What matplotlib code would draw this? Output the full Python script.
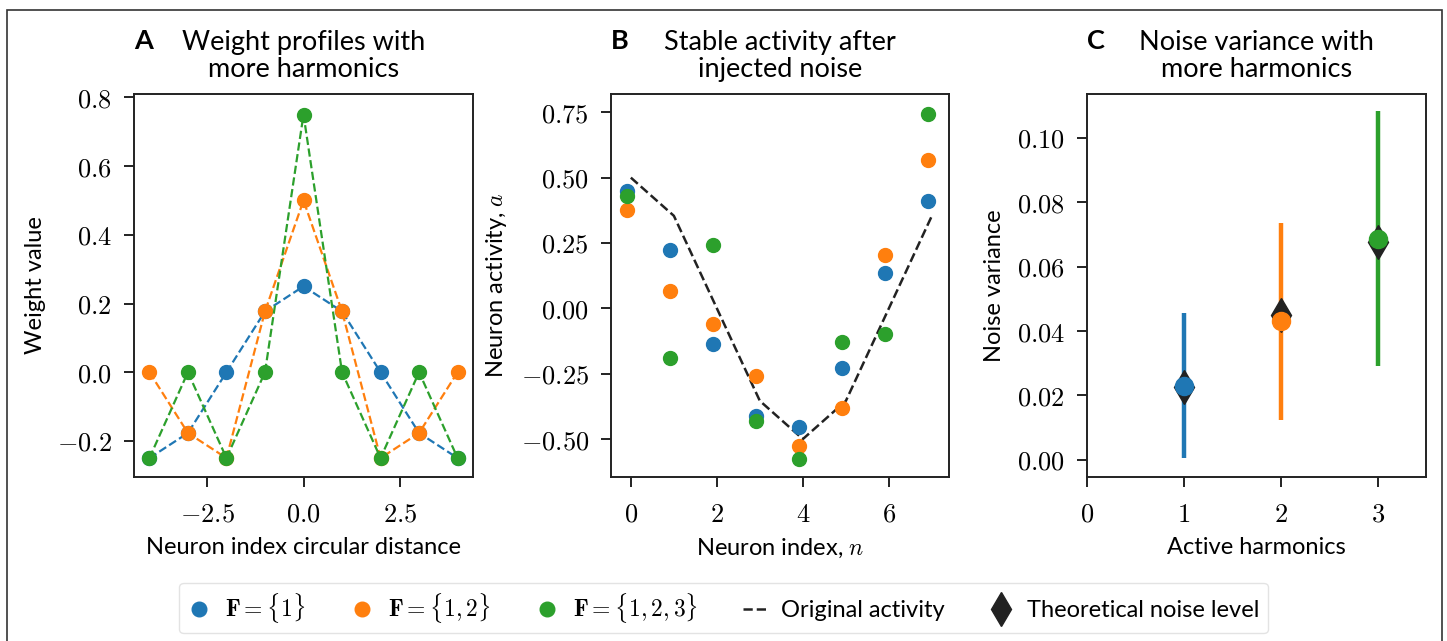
import matplotlib
matplotlib.use("Agg")
import matplotlib.pyplot as plt
from matplotlib.lines import Line2D
from matplotlib.patches import Rectangle
from matplotlib.ticker import FuncFormatter


plt.rcParams["font.family"] = ["Lato", "DejaVu Sans"]
plt.rcParams["mathtext.fontset"] = "cm"


BLUE = "#1f77b4"
ORANGE = "#ff7f0e"
GREEN = "#2ca02c"
DARK = "#222222"

# panel A: weight profiles
dist = [-4, -3, -2, -1, 0, 1, 2, 3, 4]
w_f1 = [-0.25, -0.177, 0.0, 0.177, 0.25, 0.177, 0.0, -0.177, -0.25]
w_f12 = [0.0, -0.177, -0.25, 0.177, 0.5, 0.177, -0.25, -0.177, 0.0]
w_f123 = [-0.25, 0.0, -0.25, 0.0, 0.75, 0.0, -0.25, 0.0, -0.25]

# panel B: activity after noise
neuron = [0, 1, 2, 3, 4, 5, 6, 7]
original = [0.5, 0.354, 0.0, -0.354, -0.5, -0.354, 0.0, 0.354]
act_f1 = [0.45, 0.225, -0.135, -0.41, -0.452, -0.228, 0.134, 0.412]
act_f12 = [0.375, 0.066, -0.061, -0.258, -0.525, -0.382, 0.205, 0.569]
act_f123 = [0.431, -0.19, 0.244, -0.432, -0.575, -0.128, -0.1, 0.745]
point_shift = -0.1

# panel C: noise variance
harmonics = [1, 2, 3]
var_mean = [0.0228, 0.0430, 0.0686]
var_low = [0.0005, 0.0125, 0.0293]
var_high = [0.0455, 0.0735, 0.1083]
var_theory = [0.0225, 0.045, 0.0675]
colors = [BLUE, ORANGE, GREEN]

LABEL_SIZE = 17
TITLE_SIZE = 19.5


def math_fmt(decimals):
    return FuncFormatter(lambda v, pos: f"${v:.{decimals}f}$")


def style_axes(ax):
    for spine in ax.spines.values():
        spine.set_linewidth(1.4)
        spine.set_color("#222222")
    ax.tick_params(direction="out", length=7, width=1.4, labelsize=19, color="#222222")
    ax.tick_params(axis="x", pad=11)
    ax.tick_params(axis="y", pad=9)


def panel_title(ax, letter, text):
    ax.set_title(text, fontsize=TITLE_SIZE, pad=12, linespacing=1.12)
    ax.text(0.0, 1.118, letter, transform=ax.transAxes, fontsize=TITLE_SIZE,
            fontweight="bold", ha="left", va="baseline")


fig = plt.figure(figsize=(14.47, 6.41), dpi=100)

ax_a = fig.add_axes([0.0926, 0.2559, 0.2343, 0.5975])
ax_b = fig.add_axes([0.4223, 0.2559, 0.2336, 0.5975])
ax_c = fig.add_axes([0.7512, 0.2559, 0.2343, 0.5975])

# A
for vals, col in [(w_f1, BLUE), (w_f12, ORANGE), (w_f123, GREEN)]:
    ax_a.plot(dist, vals, "--", color=col, lw=1.6, marker="o", ms=10)
ax_a.set_xlim(-4.4, 4.4)
ax_a.set_ylim(-0.305, 0.81)
ax_a.set_xticks([-2.5, 0.0, 2.5])
ax_a.set_yticks([-0.2, 0.0, 0.2, 0.4, 0.6, 0.8])
ax_a.xaxis.set_major_formatter(math_fmt(1))
ax_a.yaxis.set_major_formatter(math_fmt(1))
ax_a.set_xlabel("Neuron index circular distance", fontsize=LABEL_SIZE, labelpad=7)
ax_a.set_ylabel("Weight value", fontsize=LABEL_SIZE, labelpad=8)
style_axes(ax_a)
panel_title(ax_a, "A", "Weight profiles with\nmore harmonics")

# B
ax_b.plot(neuron, original, "--", color=DARK, lw=1.8, zorder=1)
for vals, col in [(act_f1, BLUE), (act_f12, ORANGE), (act_f123, GREEN)]:
    ax_b.plot([n + point_shift for n in neuron], vals, "o", color=col, ms=10, zorder=2)
ax_b.set_xlim(-0.46, 7.4)
ax_b.set_ylim(-0.645, 0.82)
ax_b.set_xticks([0, 2, 4, 6])
ax_b.set_yticks([-0.5, -0.25, 0.0, 0.25, 0.5, 0.75])
ax_b.xaxis.set_major_formatter(math_fmt(0))
ax_b.yaxis.set_major_formatter(math_fmt(2))
ax_b.set_xlabel("Neuron index, $n$", fontsize=LABEL_SIZE, labelpad=7)
ax_b.set_ylabel("Neuron activity, $a$", fontsize=LABEL_SIZE, labelpad=8)
style_axes(ax_b)
panel_title(ax_b, "B", "Stable activity after\ninjected noise")

# C
for i, col in enumerate(colors):
    ax_c.vlines(harmonics[i], var_low[i], var_high[i], color=col, lw=3.2, zorder=2)
    ax_c.plot(harmonics[i], var_theory[i], "d", color=DARK, ms=17.5, zorder=3)
    ax_c.plot(harmonics[i], var_mean[i], "o", color=col, ms=13, zorder=4)
ax_c.set_xlim(0, 3.5)
ax_c.set_ylim(-0.0053, 0.1136)
ax_c.set_xticks([0, 1, 2, 3])
ax_c.set_yticks([0.0, 0.02, 0.04, 0.06, 0.08, 0.1])
ax_c.xaxis.set_major_formatter(math_fmt(0))
ax_c.yaxis.set_major_formatter(math_fmt(2))
ax_c.set_xlabel("Active harmonics", fontsize=LABEL_SIZE, labelpad=7)
ax_c.set_ylabel("Noise variance", fontsize=LABEL_SIZE, labelpad=8)
style_axes(ax_c)
panel_title(ax_c, "C", "Noise variance with\nmore harmonics")

handles = [
    Line2D([], [], ls="none", marker="o", color=BLUE, ms=10.5),
    Line2D([], [], ls="none", marker="o", color=ORANGE, ms=10.5),
    Line2D([], [], ls="none", marker="o", color=GREEN, ms=10.5),
    Line2D([], [], ls="--", color=DARK, lw=1.8),
    Line2D([], [], ls="none", marker="d", color=DARK, ms=17),
]
labels = [
    r"$\mathbf{F} = \{1\}$",
    r"$\mathbf{F} = \{1, 2\}$",
    r"$\mathbf{F} = \{1, 2, 3\}$",
    "Original activity",
    "Theoretical noise level",
]
fig.legend(handles, labels, loc="center", bbox_to_anchor=(0.5, 0.0515), ncol=5,
           fontsize=17, handlelength=1.0, handletextpad=0.6, columnspacing=1.9,
           frameon=True, edgecolor="#dddddd", fancybox=True, borderpad=0.35)

fig.patches.append(Rectangle((7 / 1447, -0.05), 1435 / 1447, 1 - 10 / 641 + 0.05,
                             transform=fig.transFigure, fill=False,
                             edgecolor="#333333", lw=1.2))

fig.savefig("out.png", dpi=100)
